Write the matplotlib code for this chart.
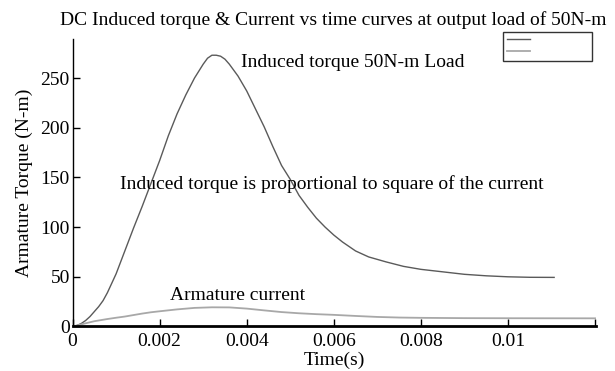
import matplotlib.pyplot as plt
from matplotlib.lines import Line2D

# time (s) and induced torque (N-m)
t_torque = [0, 0.0001, 0.0002, 0.0003, 0.0004, 0.0006, 0.0007, 0.0008, 0.001,
            0.0012, 0.0014, 0.0016, 0.0018, 0.002, 0.0022, 0.0024, 0.0026,
            0.0028, 0.003, 0.0031, 0.0032, 0.0033, 0.0034, 0.0035, 0.0036,
            0.0038, 0.004, 0.0042, 0.0044, 0.0046, 0.0048, 0.005, 0.0052,
            0.0054, 0.0056, 0.0058, 0.006, 0.0062, 0.0065, 0.0068, 0.0072,
            0.0076, 0.008, 0.0085, 0.009, 0.0095, 0.01, 0.0105, 0.01106]
torque = [0, 1, 3, 6, 10, 20, 26, 34, 53,
          76, 99, 121, 144, 167, 192, 214, 233,
          250, 264, 270, 273, 273, 272, 269, 264,
          252, 237, 219, 201, 181, 162, 148, 132,
          120, 109, 100, 92, 85, 76, 70, 65,
          60.5, 57.5, 55, 52.5, 51, 50, 49.5, 49.4]

# time (s) and armature current
t_current = [0, 0.0001, 0.0003, 0.0005, 0.0008, 0.001, 0.0012, 0.0014, 0.0016,
             0.0018, 0.002, 0.0024, 0.0028, 0.0032, 0.0036, 0.004, 0.0044,
             0.0048, 0.0052, 0.0056, 0.006, 0.0065, 0.007, 0.0075, 0.008,
             0.009, 0.01, 0.012]
current = [0, 1, 3.2, 5.3, 7.5, 8.8, 10, 11.5, 13,
           14.3, 15.3, 17.2, 18.7, 19.3, 19.2, 18, 16.2,
           14.5, 13.3, 12.4, 11.7, 10.6, 9.6, 9, 8.7,
           8.4, 8.3, 8.2]

xticks = [0, 0.002, 0.004, 0.006, 0.008, 0.01, 0.012]
xtick_labels = ['0', '0.002', '0.004', '0.006', '0.008', '0.01', '']
yticks = [0, 50, 100, 150, 200, 250]

plt.rcParams['font.family'] = ['Liberation Serif', 'DejaVu Serif']
fs = 14

fig = plt.figure(figsize=(6.15, 3.71), dpi=100)
ax = fig.add_axes([0.118, 0.12, 0.851, 0.774])

ax.plot(t_torque, torque, color='#5a5a5a', lw=1.0)
ax.plot(t_current, current, color='#a8a8a8', lw=1.3)

ax.set_xlim(0, 0.01202)
ax.set_ylim(0, 289)
ax.set_xticks(xticks)
ax.set_xticklabels(xtick_labels)
ax.set_yticks(yticks)
ax.tick_params(direction='in', length=5, width=1, labelsize=fs, pad=2)
ax.tick_params(axis='x', pad=5)
for s in ['top', 'right']:
    ax.spines[s].set_visible(False)
ax.spines['bottom'].set_linewidth(2)
ax.spines['left'].set_linewidth(1)

ax.set_xlabel('Time(s)', fontsize=fs, labelpad=1)
ax.set_ylabel('Armature Torque (N-m)', fontsize=fs, labelpad=5)

fig.text(0.098, 0.945, 'DC Induced torque & Current vs time curves at output load of 50N-m',
         fontsize=fs, ha='left', va='center')

ax.text(0.00387, 266, 'Induced torque 50N-m Load', fontsize=fs, va='center')
ax.text(0.00109, 143, 'Induced torque is proportional to square of the current',
        fontsize=fs, va='center')
ax.text(0.00224, 31, 'Armature current', fontsize=fs, va='center')

handles = [Line2D([], [], color='#5a5a5a', lw=1.0),
           Line2D([], [], color='#a8a8a8', lw=1.3)]
leg = fig.legend(handles, [' ' * 22, ' ' * 22], loc='upper right',
                 bbox_to_anchor=(0.963, 0.915), fontsize=7, frameon=True,
                 fancybox=False, edgecolor='black', handlelength=2.4,
                 borderpad=0.4, labelspacing=0.35, handletextpad=0.3, borderaxespad=0)
leg.get_frame().set_linewidth(1)

fig.savefig('out.png', dpi=100)
